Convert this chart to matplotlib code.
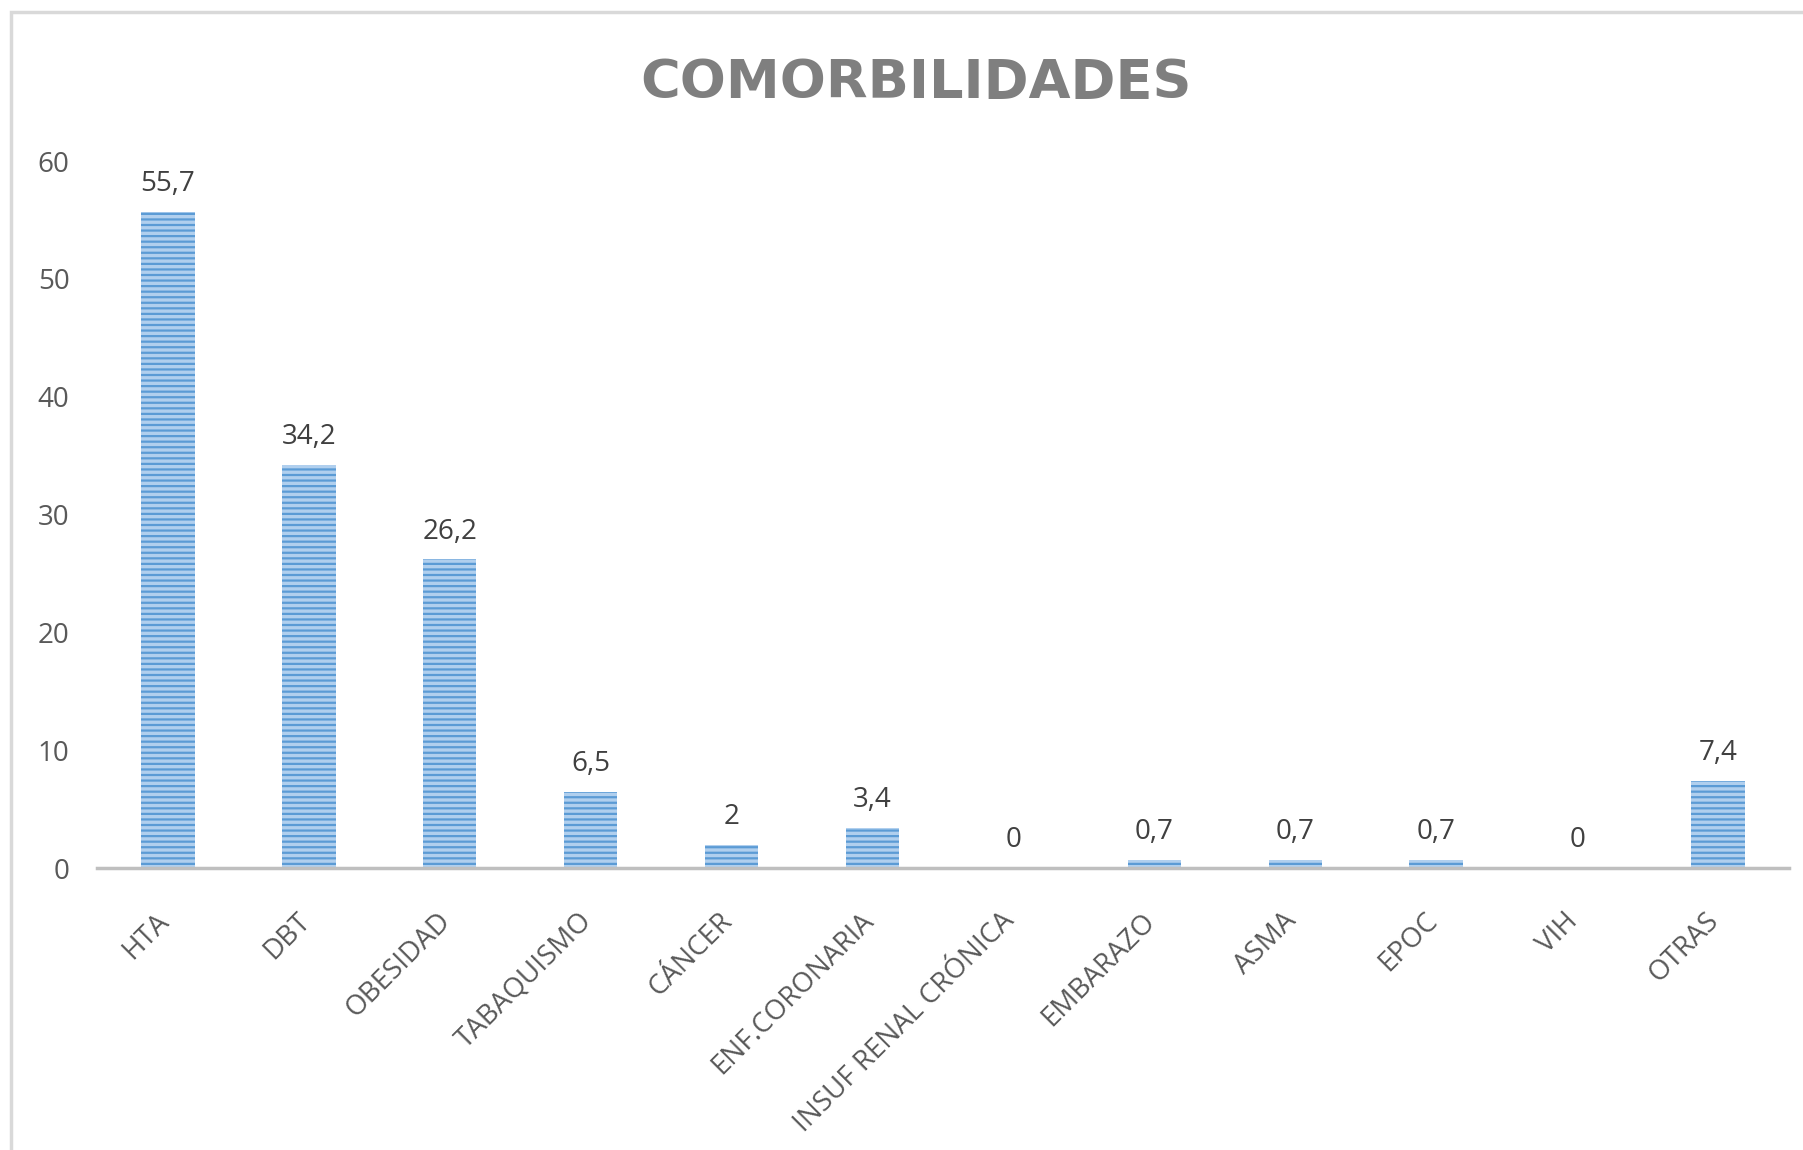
import matplotlib
matplotlib.use("Agg")
import matplotlib.pyplot as plt
from matplotlib.patches import Rectangle
from matplotlib.transforms import ScaledTranslation

categories = ["HTA", "DBT", "OBESIDAD", "TABAQUISMO", "CÁNCER", "ENF.CORONARIA",
              "INSUF RENAL CRÓNICA", "EMBARAZO", "ASMA", "EPOC", "VIH", "OTRAS"]
values = [55.7, 34.2, 26.2, 6.5, 2, 3.4, 0, 0.7, 0.7, 0.7, 0, 7.4]
value_labels = ["55,7", "34,2", "26,2", "6,5", "2", "3,4", "0", "0,7", "0,7", "0,7", "0", "7,4"]
yticks = [0, 10, 20, 30, 40, 50, 60]

plt.rcParams['font.family'] = ['Open Sans', 'DejaVu Sans']
plt.rcParams['hatch.linewidth'] = 1.6

fig = plt.figure(figsize=(18.03, 11.5), dpi=100)
fig.patches.append(Rectangle((11/1803, -0.1), 1.2, 1.1 - 12/1150,
                             transform=fig.transFigure, fill=False,
                             edgecolor='#d9d9d9', linewidth=2.5, zorder=0))

ax = fig.add_axes([0.054, 0.245, 0.938, 0.615])
x = list(range(len(categories)))
ax.bar(x, values, width=0.38, color='#b0cfee', edgecolor='#5b9bd5',
       linewidth=0, hatch='---', zorder=2)

for xi, v, lab in zip(x, values, value_labels):
    ax.annotate(lab, (xi, v), xytext=(0, 15), textcoords='offset points',
                ha='center', va='baseline', fontsize=20, color='#404040')

ax.set_xlim(-0.5, len(categories) - 0.5)
ax.set_ylim(0, 60)
ax.set_yticks(yticks)
ax.set_yticklabels([str(t) for t in yticks])
ax.set_xticks(x)
ax.set_xticklabels(categories, rotation=45, ha='right', va='top',
                   rotation_mode='anchor')

for s in ['top', 'right', 'left']:
    ax.spines[s].set_visible(False)
ax.spines['bottom'].set_color('#bfbfbf')
ax.spines['bottom'].set_linewidth(2.5)
ax.tick_params(axis='y', length=0, pad=20, labelsize=20, labelcolor='#595959')
ax.tick_params(axis='x', length=0, pad=28, labelsize=20, labelcolor='#595959')

shift = ScaledTranslation(-0.13, 0, fig.dpi_scale_trans)
for lbl in ax.get_xticklabels():
    lbl.set_transform(lbl.get_transform() + shift)

fig.text(0.508, 0.928, "COMORBILIDADES", ha='center', va='center',
         fontsize=39, fontweight='bold', color='#7f7f7f',
         family=['DejaVu Sans'])

fig.savefig("out.png", dpi=100)
